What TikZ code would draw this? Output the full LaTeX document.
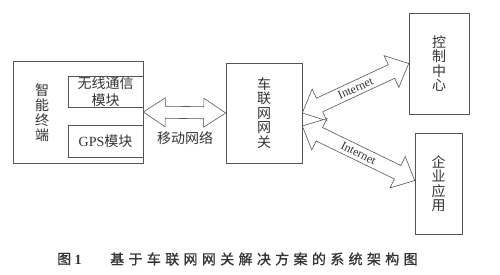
\documentclass[tikz,border=0pt]{standalone}
\usepackage{fontspec}
\setmainfont{Liberation Serif}
\newfontfamily\cjk{Noto Sans CJK SC}
\newfontfamily\cjkbold[FakeBold=1]{Noto Sans CJK SC}
\newfontfamily\cjkcap[LetterSpace=31,FakeBold=1]{Noto Sans CJK SC}
\usepackage{tikz}
\usetikzlibrary{calc, positioning}
\definecolor{linegray}{HTML}{555555}
\definecolor{inkgray}{HTML}{333333}

\begin{document}
\begin{tikzpicture}[
    x=1pt, y=1pt,
    box/.style      = {rectangle, draw=linegray, line width=0.6pt, inner sep=0pt,
                       text=inkgray, align=center},
    vbox/.style     = {box, font=\cjk\fontsize{14}{14.5}\selectfont},
    modbox/.style   = {box, minimum width=75pt, font=\cjk\fontsize{14}{17}\selectfont},
    vtext/.style    = {align=center, text=inkgray, inner sep=0pt,
                       font=\cjk\fontsize{14}{15}\selectfont},
    fatline/.style  = {draw=linegray, line width=0.6pt, fill=white, line join=miter},
    nettext/.style  = {font=\fontsize{12}{12}\selectfont, text=inkgray, inner sep=0pt},
    lbl/.style      = {text=inkgray, inner sep=0pt, font=\cjk\fontsize{14}{14}\selectfont}
  ]

  \useasboundingbox (0,0) rectangle (500,274);

  % ── Terminal ──────────────────────────────────────────────────────────────
  \node[box, minimum width=130pt, minimum height=102pt] (term) at (78,162) {};
  \node[vtext] (termlbl) at (42,161.5) {智\\能\\终\\端};
  \node[modbox, minimum height=31pt] (wifi) at (105.5,182.5) {无线通信\\模块};
  \node[modbox, minimum height=32pt] (gps)  at (105.5,133) {{\rmfamily GPS}模块};

  % ── Gateway and servers ───────────────────────────────────────────────────
  \node[vbox, minimum width=76pt, minimum height=100pt] (gw)   at (264,161)    {车\\联\\网\\网\\关};
  \node[vbox, minimum width=60pt, minimum height=101pt] (ctrl) at (439,210.5)  {控\\制\\中\\心};
  \node[vbox, minimum width=47pt, minimum height=101pt] (ent)  at (438.5,90.5) {企\\业\\应\\用};

  % ── Links ─────────────────────────────────────────────────────────────────
  \coordinate (gwup)  at (gw.east);
  \coordinate (gwdn)  at ($(gw.east)+(0,-13)$);
  \coordinate (entin) at ($(ent.west)+(0,3)$);

  % fat double arrows: wing angle/radius, shaft angle/radius
  \foreach \from/\to/\wa/\wr/\sa/\sr in {term.east/gw.west/33.4/26.3pt/15.3/22.8pt,
                                        gwup/ctrl.west/42.6/25.8pt/21.5/20.4pt,
                                        gwdn/entin/42.6/25.8pt/21.5/20.4pt}
    \draw[fatline] let \p1=($(\to)-(\from)$), \n1={atan2(\y1,\x1)} in
      (\from) -- ($(\from)+(\n1+\wa:\wr)$) -- ($(\from)+(\n1+\sa:\sr)$)
      -- ($(\to)+(\n1+180-\sa:\sr)$) -- ($(\to)+(\n1+180-\wa:\wr)$) -- (\to)
      -- ($(\to)+(\n1+180+\wa:\wr)$) -- ($(\to)+(\n1+180+\sa:\sr)$)
      -- ($(\from)+(\n1-\sa:\sr)$) -- ($(\from)+(\n1-\wa:\wr)$) -- cycle;

  \node[lbl] (moblbl) at (185,136) {移动网络};
  \path let \p1=($(ctrl.west)-(gwup)$) in
    node[nettext, rotate={atan2(\y1,\x1)}] (netuplbl) at ($(gwup)!0.5!(ctrl.west)$) {Internet};
  \path let \p1=($(entin)-(gwdn)$) in
    node[nettext, rotate={atan2(\y1,\x1)}] (netdnlbl) at ($(gwdn)!0.5!(entin)$) {Internet};

  % ── Caption ───────────────────────────────────────────────────────────────
  \node[text=inkgray, inner sep=0pt, anchor=west, font=\fontsize{14}{14}\selectfont]
    (figno) at (57,15) {{\cjkbold 图} \textbf{1}};
  \node[text=inkgray, inner sep=0pt, anchor=west, font=\cjkcap\fontsize{14}{14}\selectfont]
    (caption) at (110,15) {基于车联网网关解决方案的系统架构图};

\end{tikzpicture}
\end{document}
